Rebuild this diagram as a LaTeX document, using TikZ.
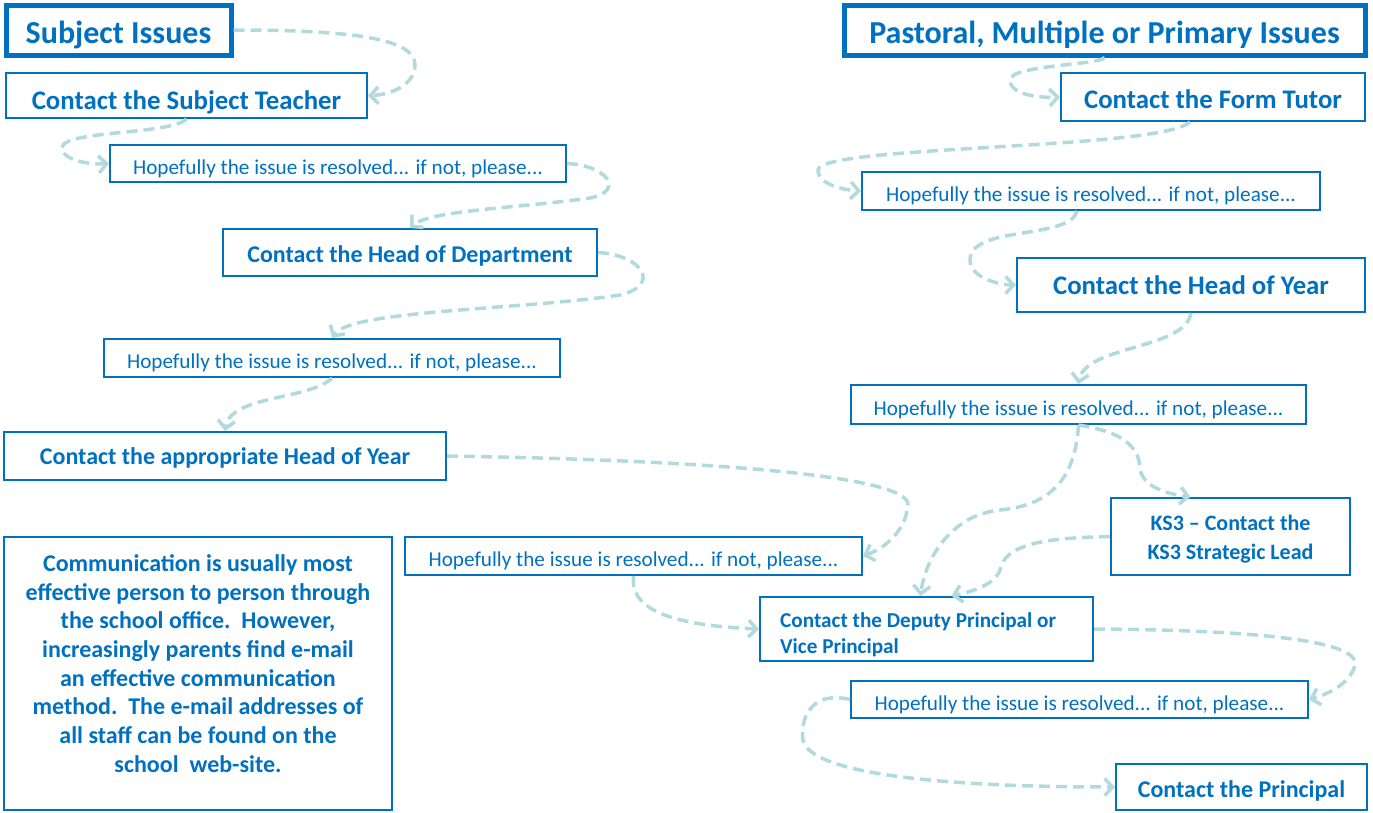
\documentclass[tikz,border=0pt]{standalone}
\usepackage{fontspec}
\setmainfont{Carlito}
\usetikzlibrary{arrows.meta}
\definecolor{bblue}{RGB}{0,112,192}
\definecolor{teal}{RGB}{178,218,222}
\newcommand\dn[2][5pt]{\raisebox{-#1}[\height][\depth]{#2}}
\tikzset{
  box/.style={draw=bblue, line width=2pt, text=bblue, inner sep=0pt, anchor=center},
  txt/.style={text=bblue, inner sep=0pt},
  titlebox/.style={box, line width=5pt, font=\bfseries\fontsize{32}{36}\selectfont},
  bigcontact/.style={box, font=\bfseries\fontsize{26.8}{30}\selectfont},
  contact/.style={box, font=\bfseries\fontsize{24}{28}\selectfont},
  hope/.style={box, font=\fontsize{21.2}{24}\selectfont},
  flow/.style={draw=teal, line width=3.5pt, dash pattern=on 11pt off 6pt, -{Straight Barb[length=8pt,width=17pt]}},
}
\begin{document}
\begin{tikzpicture}[x=1pt,y=-1pt]
\useasboundingbox (0,0) rectangle (1373,812);
% left column
\node[titlebox, minimum width=225pt, minimum height=50pt] (si) at (118.5,30) {\dn[4.5pt]{Subject Issues}};
\node[bigcontact, minimum width=361pt, minimum height=45pt] (st) at (186.5,95.5) {\dn[6.5pt]{Contact the Subject Teacher}};
\node[hope, minimum width=456pt, minimum height=37pt] (h1) at (338,163.5) {\dn{Hopefully the issue is resolved... if not, please...}};
\node[contact, minimum width=374pt, minimum height=47pt] (hod) at (410,252.5) {\dn[3pt]{Contact the Head of Department}};
\node[hope, minimum width=456pt, minimum height=38pt] (h2) at (332,358) {\dn{Hopefully the issue is resolved... if not, please...}};
\node[contact, minimum width=442pt, minimum height=48pt] (ahoy) at (225,456) {\dn[2pt]{Contact the appropriate Head of Year}};
\node[box, minimum width=388pt, minimum height=273pt] (comm) at (198,673.5) {};
\node[txt, align=center, font=\bfseries\fontsize{24}{28.7}\selectfont] (commtext) at (198,663.5) {Communication is usually most\\effective person to person through\\the school office.\ \ However,\\increasingly parents find e-mail\\an effective communication\\method.\ \ The e-mail addresses of\\all staff can be found on the\\school\ \ web-site.};
\node[hope, minimum width=457pt, minimum height=38pt] (h3) at (633.5,556) {\dn{Hopefully the issue is resolved... if not, please...}};
% right column
\node[titlebox, minimum width=521pt, minimum height=50pt] (past) at (1104.5,30) {\dn[4.5pt]{Pastoral, Multiple or Primary Issues}};
\node[bigcontact, minimum width=304pt, minimum height=48pt] (ft) at (1213,97) {\dn[2.5pt]{Contact the Form Tutor}};
\node[hope, minimum width=458pt, minimum height=38pt] (hr1) at (1091,191) {\dn{Hopefully the issue is resolved... if not, please...}};
\node[bigcontact, minimum width=348pt, minimum height=54pt] (hoy) at (1191,285) {\dn[0pt]{Contact the Head of Year}};
\node[hope, minimum width=455pt, minimum height=39pt] (hr2) at (1078.5,404.5) {\dn{Hopefully the issue is resolved... if not, please...}};
\node[box, minimum width=239pt, minimum height=77pt] (ks3) at (1230.5,536.5) {};
\node[txt, align=center, font=\bfseries\fontsize{22}{29}\selectfont] (ks3text) at (1230.5,539) {KS3 -- Contact the\\KS3 Strategic Lead};
\node[box, minimum width=333pt, minimum height=64pt] (dep) at (926.5,629) {};
\node[txt, anchor=west, align=left, font=\bfseries\fontsize{21.2}{26}\selectfont] (deptext) at (780,635) {Contact the Deputy Principal or\\Vice Principal};
\node[hope, minimum width=457pt, minimum height=37pt] (hr3) at (1079.5,699.5) {\dn{Hopefully the issue is resolved... if not, please...}};
\node[contact, minimum width=251pt, minimum height=46pt] (pr) at (1241.5,787) {\dn[3.5pt]{Contact the Principal}};
% connectors left
\draw[flow] (si.east) .. controls (360,30) and (415,40) .. (415,65) .. controls (415,85) and (390,95) .. (st.east);
\draw[flow] (st.south) .. controls (170,135) and (62,130) .. (62,148) .. controls (62,160) and (90,165) .. (h1.west);
\draw[flow] (h1.east) .. controls (605,165) and (627,190) .. (590,198) .. controls (520,208) and (430,210) .. (hod.north);
\draw[flow] (hod.east) .. controls (642,255) and (662,285) .. (620,295) .. controls (520,310) and (350,310) .. (h2.north);
\draw[flow] (h2.south) .. controls (310,400) and (230,395) .. (ahoy.north);
\draw[flow] (ahoy.east) .. controls (700,460) and (910,475) .. (908,505) .. controls (905,535) and (880,550) .. (h3.east);
\draw[flow] (h3.south) .. controls (630,605) and (660,625) .. (dep.west);
% connectors right
\draw[flow] (past.south) .. controls (1100,65) and (1010,65) .. (1010,80) .. controls (1010,95) and (1040,98) .. (ft.west);
\draw[flow] ([xshift=-23pt]ft.south) .. controls (1160,150) and (820,145) .. (818,170) .. controls (818,185) and (845,190) .. (hr1.west);
\draw[flow] ([xshift=-14pt]hr1.south) .. controls (1070,240) and (970,225) .. (970,260) .. controls (970,278) and (1000,285) .. (hoy.west);
\draw[flow] (hoy.south) .. controls (1185,350) and (1085,345) .. (hr2.north);
\draw[flow] (hr2.south) .. controls (1110,430) and (1140,440) .. (1140,470) .. controls (1145,490) and (1175,495) .. ([xshift=-40pt]ks3.north);
\draw[flow] (hr2.south) .. controls (1075,480) and (1050,505) .. (1000,510) .. controls (950,515) and (925,560) .. ([xshift=-6pt]dep.north);
\draw[flow] (ks3.west) .. controls (1040,538) and (1005,545) .. (1000,570) .. controls (995,585) and (970,592) .. ([xshift=25pt]dep.north);
\draw[flow] (dep.east) .. controls (1250,630) and (1360,640) .. (1355,665) .. controls (1350,685) and (1325,695) .. (hr3.east);
\draw[flow] (hr3.west) .. controls (810,690) and (800,720) .. (803,740) .. controls (810,775) and (950,787) .. (pr.west);
\end{tikzpicture}
\end{document}
